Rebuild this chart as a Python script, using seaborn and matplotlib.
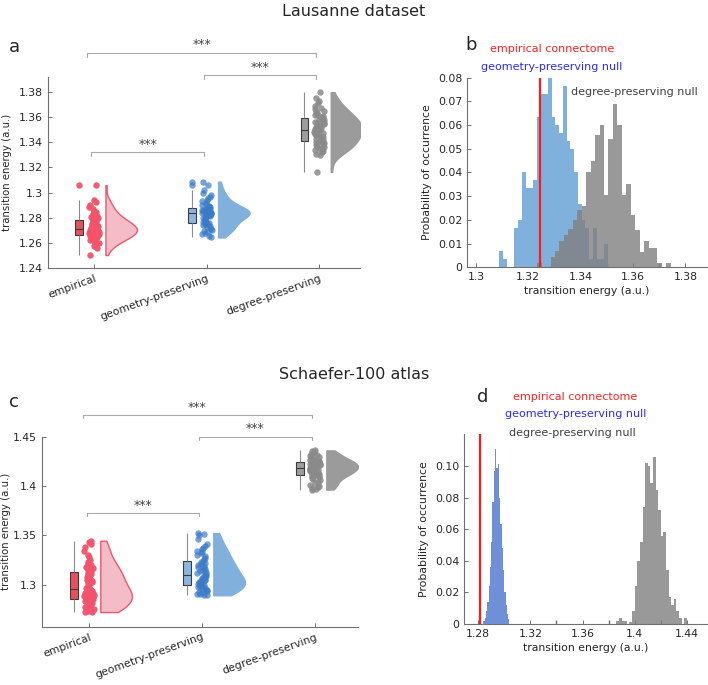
import numpy as np
import pandas as pd
import matplotlib
matplotlib.use("Agg")
import matplotlib.pyplot as plt
import seaborn as sns
from matplotlib.ticker import MultipleLocator

# --- Data ---
group_names = ["empirical", "geometry-preserving", "degree-preserving"]

# Lausanne dataset, transition energy per subject
laus_emp = [1.2505, 1.2560, 1.2575, 1.2590, 1.2600, 1.2610, 1.2618, 1.2625, 1.2632, 1.2638,
            1.2643, 1.2648, 1.2652, 1.2656, 1.2660, 1.2664, 1.2668, 1.2672, 1.2676, 1.2680,
            1.2684, 1.2688, 1.2692, 1.2696, 1.2699, 1.2702, 1.2705, 1.2708, 1.2711, 1.2714,
            1.2717, 1.2720, 1.2723, 1.2727, 1.2731, 1.2735, 1.2739, 1.2743, 1.2748, 1.2753,
            1.2758, 1.2763, 1.2768, 1.2773, 1.2778, 1.2784, 1.2790, 1.2797, 1.2805, 1.2813,
            1.2822, 1.2832, 1.2843, 1.2855, 1.2868, 1.2885, 1.2905, 1.2925, 1.2942, 1.3060]
laus_geo = [1.2645, 1.2660, 1.2672, 1.2682, 1.2690, 1.2698, 1.2705, 1.2712, 1.2720, 1.2728,
            1.2735, 1.2742, 1.2748, 1.2752, 1.2756, 1.2762, 1.2770, 1.2778, 1.2786, 1.2794,
            1.2800, 1.2806, 1.2811, 1.2815, 1.2819, 1.2823, 1.2826, 1.2829, 1.2832, 1.2834,
            1.2836, 1.2838, 1.2840, 1.2842, 1.2844, 1.2847, 1.2850, 1.2853, 1.2856, 1.2859,
            1.2862, 1.2865, 1.2868, 1.2872, 1.2877, 1.2883, 1.2890, 1.2897, 1.2905, 1.2913,
            1.2922, 1.2932, 1.2942, 1.2955, 1.2968, 1.2985, 1.3000, 1.3018, 1.3058, 1.3088]
laus_deg = [1.3165, 1.3300, 1.3310, 1.3320, 1.3330, 1.3340, 1.3350, 1.3358, 1.3366, 1.3374,
            1.3382, 1.3390, 1.3396, 1.3402, 1.3406, 1.3410, 1.3418, 1.3426, 1.3434, 1.3442,
            1.3450, 1.3457, 1.3463, 1.3469, 1.3475, 1.3480, 1.3485, 1.3490, 1.3494, 1.3498,
            1.3502, 1.3507, 1.3512, 1.3518, 1.3524, 1.3530, 1.3536, 1.3542, 1.3549, 1.3556,
            1.3563, 1.3570, 1.3576, 1.3582, 1.3588, 1.3594, 1.3600, 1.3607, 1.3614, 1.3622,
            1.3630, 1.3640, 1.3650, 1.3662, 1.3675, 1.3690, 1.3710, 1.3725, 1.3750, 1.3798]

# Schaefer-100 atlas
schf_emp = [1.2725, 1.2730, 1.2738, 1.2745, 1.2752, 1.2760, 1.2768, 1.2776, 1.2785, 1.2795,
            1.2805, 1.2815, 1.2825, 1.2835, 1.2845, 1.2855, 1.2862, 1.2870, 1.2877, 1.2884,
            1.2890, 1.2896, 1.2902, 1.2908, 1.2914, 1.2920, 1.2927, 1.2935, 1.2945, 1.2956,
            1.2968, 1.2980, 1.2992, 1.3004, 1.3016, 1.3028, 1.3040, 1.3052, 1.3064, 1.3076,
            1.3088, 1.3100, 1.3108, 1.3116, 1.3126, 1.3140, 1.3155, 1.3170, 1.3185, 1.3200,
            1.3215, 1.3235, 1.3255, 1.3280, 1.3305, 1.3340, 1.3380, 1.3410, 1.3430, 1.3447]
schf_geo = [1.2895, 1.2900, 1.2905, 1.2912, 1.2920, 1.2928, 1.2936, 1.2944, 1.2952, 1.2960,
            1.2968, 1.2975, 1.2982, 1.2988, 1.2994, 1.3000, 1.3006, 1.3012, 1.3018, 1.3024,
            1.3030, 1.3036, 1.3042, 1.3048, 1.3054, 1.3060, 1.3068, 1.3076, 1.3085, 1.3095,
            1.3105, 1.3115, 1.3125, 1.3135, 1.3145, 1.3155, 1.3165, 1.3175, 1.3185, 1.3195,
            1.3204, 1.3212, 1.3220, 1.3230, 1.3242, 1.3258, 1.3274, 1.3290, 1.3306, 1.3320,
            1.3334, 1.3348, 1.3362, 1.3378, 1.3395, 1.3410, 1.3460, 1.3500, 1.3515, 1.3525]
schf_deg = [1.3965, 1.3975, 1.3985, 1.3995, 1.4005, 1.4015, 1.4030, 1.4045, 1.4060, 1.4072,
            1.4082, 1.4092, 1.4100, 1.4106, 1.4112, 1.4117, 1.4122, 1.4127, 1.4132, 1.4137,
            1.4142, 1.4147, 1.4152, 1.4157, 1.4162, 1.4167, 1.4171, 1.4175, 1.4179, 1.4183,
            1.4187, 1.4191, 1.4195, 1.4199, 1.4203, 1.4207, 1.4211, 1.4215, 1.4219, 1.4223,
            1.4227, 1.4231, 1.4235, 1.4239, 1.4243, 1.4247, 1.4252, 1.4257, 1.4262, 1.4268,
            1.4275, 1.4283, 1.4292, 1.4302, 1.4313, 1.4325, 1.4337, 1.4348, 1.4355, 1.4361]

# Panel b: null distributions (probability per bin), Lausanne
laus_emp_value = 1.3246
laus_geo_start, laus_geo_bin = 1.3090, 0.001427
laus_geo_prob = [0.0067, 0.0033, 0.0, 0.0, 0.0167, 0.0200, 0.0400, 0.0333, 0.0333, 0.0367,
                 0.0633, 0.0733, 0.0733, 0.0800, 0.0633, 0.0600, 0.0567, 0.0767, 0.0533, 0.0500,
                 0.0400, 0.0267, 0.0200, 0.0167, 0.0033, 0.0167, 0.0033, 0.0033, 0.0100]
laus_deg_start, laus_deg_bin = 1.3234, 0.001703
laus_deg_prob = [0.0020, 0.0, 0.0, 0.0045, 0.0067, 0.0110, 0.0135, 0.0160, 0.0200, 0.0240,
                 0.0260, 0.0400, 0.0450, 0.0560, 0.0600, 0.0305, 0.0540, 0.0690, 0.0600, 0.0305,
                 0.0350, 0.0220, 0.0157, 0.0066, 0.0110, 0.0080, 0.0080, 0.0020, 0.0, 0.0020]

# Panel d: null distributions, Schaefer-100
schf_emp_value = 1.2818
schf_geo_start, schf_geo_bin = 1.2840, 0.001
schf_geo_prob = [0.002, 0.004, 0.008, 0.014, 0.024, 0.036, 0.052, 0.077, 0.097, 0.111,
                 0.099, 0.101, 0.080, 0.063, 0.048, 0.034, 0.020, 0.012, 0.006, 0.003]
schf_deg_start, schf_deg_bin = 1.3860, 0.002
schf_deg_prob = [0.0020, 0.0035, 0.0020, 0.0020, 0.0, 0.0015, 0.0080, 0.0240, 0.0400, 0.0520,
                 0.0740, 0.1020, 0.1000, 0.0890, 0.1060, 0.0850, 0.0720, 0.0560, 0.0580, 0.0340,
                 0.0170, 0.0120, 0.0160, 0.0080, 0.0035, 0.0, 0.0035]

# --- Styling ---
styles = [
    dict(point="#f2536b", alpha=0.95, box="#e8505b", vface="#f3bcc6", vedge="#f0566d"),
    dict(point="#3a7bc8", alpha=0.7, box="#8ab6e2", vface="#82b0dc", vedge="#82b0dc"),
    dict(point="#8a8a8a", alpha=0.85, box="#9e9e9e", vface="#9b9b9b", vedge="#9b9b9b"),
]
axis_grey = "#707070"
text_dark = "#262626"

sns.set_theme(style="ticks")
plt.rcParams["font.family"] = ["DejaVu Sans"]
plt.rcParams.update({
    "xtick.direction": "in", "ytick.direction": "in",
    "xtick.major.size": 3, "ytick.major.size": 3,
    "xtick.minor.size": 3, "ytick.minor.size": 3,
    "xtick.major.width": 0.7, "ytick.major.width": 0.7,
    "axes.edgecolor": axis_grey, "axes.linewidth": 0.8,
    "xtick.color": axis_grey, "ytick.color": axis_grey,
    "xtick.labelcolor": text_dark, "ytick.labelcolor": text_dark,
    "xtick.labelsize": 7.8, "ytick.labelsize": 7.8,
    "axes.labelsize": 7.8, "axes.labelcolor": text_dark,
})

VIOLIN_GAP = 0.1    # gap between point column and flat edge of the half violin
VIOLIN_SPAN = 0.28  # max width of the half violin


def raincloud(ax, datasets):
    np.random.seed(7)
    for i, (vals, sty) in enumerate(zip(datasets, styles)):
        vals = np.asarray(vals)
        n = len(vals)
        # half violin to the right of the points (seaborn puts the flat edge at x - width/2)
        vx = i + VIOLIN_GAP + VIOLIN_SPAN / 2
        vdf = pd.DataFrame({"x": np.full(n, vx), "y": vals, "side": "right"})
        sns.violinplot(data=vdf, x="x", y="y", hue="side", hue_order=["left", "right"],
                       split=True, dodge=False, native_scale=True, inner=None, cut=0,
                       density_norm="width", width=VIOLIN_SPAN, saturation=1,
                       palette={"left": sty["vface"], "right": sty["vface"]},
                       linecolor=sty["vedge"], linewidth=1.0, legend=False, ax=ax)
        # box to the left
        bdf = pd.DataFrame({"x": np.full(n, i - 0.133), "y": vals})
        sns.boxplot(data=bdf, x="x", y="y", native_scale=True, width=0.068,
                    color=sty["box"], saturation=1, linecolor="#3c3c3c", linewidth=0.8,
                    showcaps=False, whis=1.5, fliersize=4.6,
                    flierprops=dict(marker="o", markerfacecolor=sty["point"],
                                    markeredgecolor="none", alpha=sty["alpha"]),
                    whiskerprops=dict(color="#8c8c8c"), ax=ax)
        # jittered points
        sdf = pd.DataFrame({"x": np.full(n, float(i)), "y": vals})
        sns.stripplot(data=sdf, x="x", y="y", native_scale=True, jitter=0.045,
                      color=sty["point"], size=4.6, alpha=sty["alpha"], linewidth=0,
                      zorder=4, ax=ax)
    ax.set_xticks([0, 1, 2])
    ax.set_xticklabels(group_names, rotation=20, ha="right", va="top",
                       rotation_mode="anchor")
    ax.set_xlabel("")
    ax.set_ylabel("transition energy (a.u.)", fontsize=7.3)
    sns.despine(ax=ax)


def bracket(ax, x1, x2, y, drop):
    ax.plot([x1, x1, x2, x2], [y - drop, y, y, y - drop], color="#aaaaaa", lw=0.8,
            clip_on=False)
    ax.text((x1 + x2) / 2, y + drop * 0.4, "***", ha="center", va="bottom",
            fontsize=9, color="#444444", clip_on=False)


def null_hist(ax, start, width, prob, color, alpha):
    prob = np.asarray(prob, dtype=float)
    edges = start + width * np.arange(len(prob) + 1)
    hdf = pd.DataFrame({"energy": edges[:-1] + width / 2, "prob": prob})
    sns.histplot(data=hdf, x="energy", weights="prob", bins=list(edges), color=color,
                 alpha=alpha, linewidth=0, ax=ax)


fig = plt.figure(figsize=(7.08, 6.85), dpi=100)
ax_a = fig.add_axes([0.0678, 0.6083, 0.4407, 0.2797])
ax_b = fig.add_axes([0.6596, 0.6098, 0.3390, 0.2768])
ax_c = fig.add_axes([0.0593, 0.0847, 0.4463, 0.2778])
ax_d = fig.add_axes([0.6554, 0.0891, 0.3432, 0.2774])

# --- panel a ---
raincloud(ax_a, [laus_emp, laus_geo, laus_deg])
ax_a.set_xlim(-0.41, 2.36)
ax_a.set_ylim(1.24, 1.392)
ax_a.set_yticks(np.arange(1.24, 1.381, 0.02))
ax_a.set_yticklabels([f"{v:g}" for v in np.round(np.arange(1.24, 1.381, 0.02), 2)])
ax_a.yaxis.set_label_coords(-0.116, 0.5)
bracket(ax_a, -0.06, 1.97, 1.4112, 0.0032)
bracket(ax_a, 0.976, 1.97, 1.393, 0.0032)
bracket(ax_a, -0.027, 0.976, 1.332, 0.0032)

# --- panel c ---
raincloud(ax_c, [schf_emp, schf_geo, schf_deg])
ax_c.set_xlim(-0.416, 2.38)
ax_c.set_ylim(1.2574, 1.45)
ax_c.set_yticks([1.3, 1.35, 1.4, 1.45])
ax_c.set_yticklabels(["1.3", "1.35", "1.4", "1.45"])
ax_c.yaxis.set_label_coords(-0.097, 0.5)
bracket(ax_c, -0.056, 1.971, 1.472, 0.0035)
bracket(ax_c, 0.973, 1.971, 1.45, 0.0035)
bracket(ax_c, -0.02, 0.973, 1.3728, 0.0035)

# --- panel b ---
null_hist(ax_b, laus_geo_start, laus_geo_bin, laus_geo_prob, "#80b0dc", 1.0)
null_hist(ax_b, laus_deg_start, laus_deg_bin, laus_deg_prob, "#808080", 0.8)
ax_b.axvline(laus_emp_value, color="#ff1a1a", lw=1.6, zorder=5)
ax_b.set_xlim(1.2966, 1.3883)
ax_b.set_ylim(0, 0.08)
ax_b.set_xticks([1.3, 1.32, 1.34, 1.36, 1.38])
ax_b.set_xticklabels(["1.3", "1.32", "1.34", "1.36", "1.38"])
ax_b.xaxis.set_minor_locator(MultipleLocator(0.01))
ax_b.set_yticks(np.arange(0, 0.081, 0.01))
ax_b.set_yticklabels(["0", "0.01", "0.02", "0.03", "0.04", "0.05", "0.06", "0.07", "0.08"])

# --- panel d ---
null_hist(ax_d, schf_geo_start, schf_geo_bin, schf_geo_prob, "#6f90d9", 1.0)
null_hist(ax_d, schf_deg_start, schf_deg_bin, schf_deg_prob, "#808080", 0.8)
ax_d.axvline(schf_emp_value, color="#ff1a1a", lw=1.6, zorder=5)
ax_d.set_xlim(1.2692, 1.4554)
ax_d.set_ylim(0, 0.1203)
ax_d.set_xticks([1.28, 1.32, 1.36, 1.40, 1.44])
ax_d.set_xticklabels(["1.28", "1.32", "1.36", "1.4", "1.44"])
ax_d.xaxis.set_minor_locator(MultipleLocator(0.02))
ax_d.set_yticks([0, 0.02, 0.04, 0.06, 0.08, 0.10])
ax_d.set_yticklabels(["0", "0.02", "0.04", "0.06", "0.08", "0.10"])

for ax in (ax_b, ax_d):
    ax.set_xlabel("transition energy (a.u.)", labelpad=3)
    ax.set_ylabel("Probability of occurrence", labelpad=4)
    sns.despine(ax=ax)

# --- annotations ---
fig.text(0.5, 0.9825, "Lausanne dataset", ha="center", va="center", fontsize=11.5,
         color=text_dark)
fig.text(0.5, 0.4526, "Schaefer-100 atlas", ha="center", va="center", fontsize=11.5,
         color=text_dark)
for lbl, x, y in [("a", 0.0198, 0.9314), ("b", 0.665, 0.934),
                  ("c", 0.0198, 0.413), ("d", 0.682, 0.4204)]:
    fig.text(x, y, lbl, ha="center", va="center", fontsize=13, color=text_dark)

fig.text(0.7797, 0.9285, "empirical connectome", ha="center", va="center",
         fontsize=8, color="#ff2020")
fig.text(0.7797, 0.902, "geometry-preserving null", ha="center", va="center",
         fontsize=8, color="#2b2bff")
fig.text(0.896, 0.866, "degree-preserving null", ha="center", va="center",
         fontsize=8, color="#404040")
fig.text(0.812, 0.4209, "empirical connectome", ha="center", va="center",
         fontsize=8, color="#ff2020")
fig.text(0.8125, 0.3952, "geometry-preserving null", ha="center", va="center",
         fontsize=8, color="#2b2bff")
fig.text(0.808, 0.3674, "degree-preserving null", ha="center", va="center",
         fontsize=8, color="#404040")

fig.savefig("out.png", dpi=100)
